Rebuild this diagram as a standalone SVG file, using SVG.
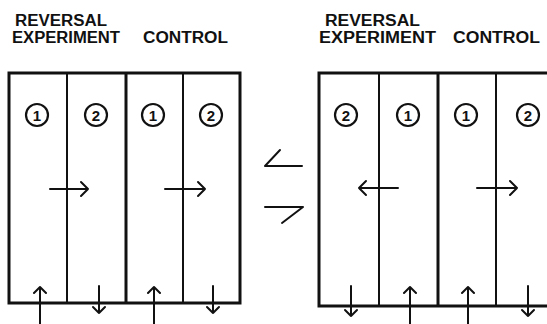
<svg xmlns="http://www.w3.org/2000/svg" width="547" height="324" viewBox="0 0 547 324">
<style>
text{font-family:"Liberation Sans",Arial,sans-serif;fill:#111}
.lbl{font-size:16px;font-weight:bold}
.num{font-size:15px;font-weight:bold;text-anchor:middle}
.frame{fill:none;stroke:#111;stroke-width:3;stroke-linejoin:miter}
.div{stroke:#111;stroke-width:2}
.mid{stroke:#111;stroke-width:3}
.circ{fill:none;stroke:#111;stroke-width:2.2}
.arr{fill:none;stroke:#111;stroke-width:2;stroke-linecap:round;stroke-linejoin:round}
</style>
<rect width="547" height="324" fill="#fff"/>
<g id="labels-left">
<text class="lbl" x="15" y="26" textLength="92" lengthAdjust="spacingAndGlyphs">REVERSAL</text>
<text class="lbl" x="12" y="43" textLength="108" lengthAdjust="spacingAndGlyphs">EXPERIMENT</text>
<text class="lbl" x="143" y="43" textLength="85" lengthAdjust="spacingAndGlyphs">CONTROL</text>
</g>
<g id="labels-right">
<text class="lbl" x="325" y="26" textLength="95" lengthAdjust="spacingAndGlyphs">REVERSAL</text>
<text class="lbl" x="319" y="43" textLength="117" lengthAdjust="spacingAndGlyphs">EXPERIMENT</text>
<text class="lbl" x="453" y="43" textLength="87" lengthAdjust="spacingAndGlyphs">CONTROL</text>
</g>
<g id="chamber-left">
<rect class="frame" x="9" y="73" width="231" height="230"/>
<line class="div" x1="67" y1="73" x2="67" y2="303"/>
<line class="mid" x1="126" y1="73" x2="126" y2="303"/>
<line class="div" x1="183" y1="73" x2="183" y2="303"/>
<circle class="circ" cx="37" cy="115" r="11"/><text class="num" x="37" y="120.5">1</text>
<circle class="circ" cx="96" cy="115" r="11"/><text class="num" x="96" y="120.5">2</text>
<circle class="circ" cx="153" cy="115" r="11"/><text class="num" x="153" y="120.5">1</text>
<circle class="circ" cx="211" cy="115" r="11"/><text class="num" x="211" y="120.5">2</text>
</g>
<g id="chamber-right">
<path class="frame" d="M549,73 H319 V306 H549"/>
<line class="div" x1="379" y1="73" x2="379" y2="306"/>
<line class="mid" x1="438" y1="73" x2="438" y2="306"/>
<line class="div" x1="496" y1="73" x2="496" y2="306"/>
<circle class="circ" cx="346" cy="115" r="11"/><text class="num" x="346" y="120.5">2</text>
<circle class="circ" cx="408" cy="115" r="11"/><text class="num" x="408" y="120.5">1</text>
<circle class="circ" cx="466" cy="115" r="11"/><text class="num" x="466" y="120.5">1</text>
<circle class="circ" cx="528" cy="115" r="11"/><text class="num" x="528" y="120.5">2</text>
</g>
<g id="connectors">
<path class="arr" d="M50,189 H88 M81,182 L88,189 L81,196"/>
<path class="arr" d="M165,189 H205 M198,182 L205,189 L198,196"/>
<path class="arr" d="M398,188 H359 M366,181 L359,188 L366,195"/>
<path class="arr" d="M477,188 H517 M510,181 L517,188 L510,195"/>
<path class="arr" d="M40,324 V287 M34,293 L40,287 L46,293"/>
<path class="arr" d="M154,324 V287 M148,293 L154,287 L160,293"/>
<path class="arr" d="M99,286 V313 M93,307 L99,313 L105,307"/>
<path class="arr" d="M213,286 V313 M207,307 L213,313 L219,307"/>
<path class="arr" d="M351,286 V316 M345,310 L351,316 L357,310"/>
<path class="arr" d="M528,286 V316 M522,310 L528,316 L534,310"/>
<path class="arr" d="M410,324 V287 M404,293 L410,287 L416,293"/>
<path class="arr" d="M468,324 V287 M462,293 L468,287 L474,293"/>
<path class="arr" d="M280,150 L265,166 H302"/>
<path class="arr" d="M265,207 H303 L282,223"/>
</g>
</svg>
